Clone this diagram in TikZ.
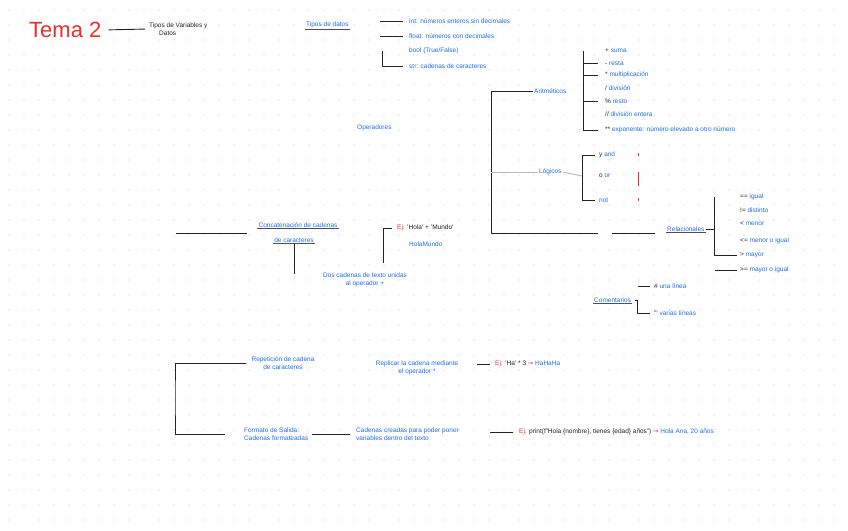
\documentclass[tikz,border=0pt]{standalone}
\usepackage{fontspec}
\setmainfont{Liberation Sans}
\newfontfamily\symfont{DejaVu Sans}
\usepackage{tikz}
\usetikzlibrary{positioning}

\definecolor{pen}{RGB}{30,110,235}
\definecolor{tred}{RGB}{235,45,45}
\definecolor{ink}{RGB}{35,35,35}
\definecolor{dotc}{RGB}{200,200,200}
\newcommand{\arr}{{\symfont\textcolor{tred}{→}}}

\begin{document}
\begin{tikzpicture}[x=1pt,y=-1pt,
  every node/.style={font=\fontsize{6.5}{7.8}\selectfont,inner sep=1pt},
  note/.style={text=pen,anchor=west,align=left},
  plain/.style={text=ink,anchor=west,align=left},
  ink/.style={draw=ink,line width=0.9pt},
  soft/.style={draw=gray!55,line width=0.9pt},
  under/.style={draw=ink!80,line width=0.7pt}]
  \useasboundingbox (0,0) rectangle (848,530);
  \fill[white] (0,0) rectangle (848,530);
  \foreach \x in {9,24,...,848}
    \foreach \y in {10,25,...,530}
      \fill[dotc] (\x,\y) circle (0.6);

  % titulo
  \node[text=tred,font=\fontsize{22}{24}\selectfont,anchor=west] (tema) at (28,30) {Tema 2};
  \node[plain] (titulo) at (148,29) {Tipos de Variables y\\\hspace{10pt}Datos};
  \draw[ink,shorten <=6pt,shorten >=3pt] (tema.east) -- (titulo.west);

  % tipos de datos
  \node[note] (tipos) at (305,25) {Tipos de datos};
  \draw[under] (tipos.south west) -- (tipos.south east);
  \node[note] (i1) at (408,21) {int: números enteros sin decimales};
  \node[note] (i2) at (408,36) {float: números con decimales};
  \node[note] (i3) at (408,51) {bool (True/False)};
  \node[note] (i4) at (408,66) {str: cadenas de caracteres};
  \draw[ink] ([xshift=-28pt]i1.west) -- ([xshift=-5pt]i1.west);
  \draw[ink] ([xshift=-28pt]i2.west) -- ([xshift=-5pt]i2.west);
  \draw[ink] ([xshift=-26pt]i3.west) |- ([xshift=-5pt]i4.west);

  % operadores
  \node[note] (oper) at (356,128) {Operadores};
  \coordinate (tronco) at (491,233);
  \node[note] (arit) at (533,91) {Aritméticos};
  \node[note] (logic) at (538,172) {Lógicos};
  \node[note] (relac) at (666,229) {Relacionales};
  \draw[under] (relac.south west) -- (relac.south east);
  \draw[ink] (arit.west) -| (tronco) -- ++(107,0);
  \draw[ink] ([xshift=-54pt]relac.west |- tronco) -- ([xshift=-11pt]relac.west |- tronco);
  \draw[soft] (logic.west) -- (logic.west -| tronco);

  % aritmeticos
  \node[note] (a1) at (604,51) {\textcolor{ink}{+} suma};
  \node[note] (a2) at (604,63) {\textcolor{ink}{-} resta};
  \node[note] (a3) at (604,75) {\textcolor{ink}{*} multiplicación};
  \node[note] (a4) at (604,88) {\textcolor{ink}{/} división};
  \node[note] (a5) at (604,101) {\textcolor{ink}{\%} resto};
  \node[note] (a6) at (604,114) {\textcolor{ink}{//} división entera};
  \node[note] (a7) at (604,130) {\textcolor{ink}{**} exponente: número elevado a otro número};
  \draw[ink] ([xshift=-21pt]a1.west) -- ([xshift=-21pt]a7.west) -- ([xshift=-6pt]a7.west);
  \foreach \n in {a2,a3,a5}
    \draw[ink] ([xshift=-21pt]\n.west) -- ([xshift=-6pt]\n.west);

  % logicos
  \node[note] (l1) at (598,155) {\textcolor{ink}{y} and};
  \node[note] (l2) at (598,176) {\textcolor{ink}{o} or};
  \node[note] (l3) at (598,200) {not};
  \draw[soft] (logic.east) -- ([xshift=-16pt]l2.west);
  \draw[ink] ([xshift=-3pt]l1.west) -| ([xshift=-16pt]l3.west) -- ([xshift=-3pt]l3.west);
  \draw[tred,line width=0.8pt] (638,153) -- (638,155.5);
  \draw[tred,line width=0.8pt] (638,172) -- (638,186);
  \draw[tred,line width=0.8pt] (638,198) -- (638,201);

  % relacionales
  \node[note] (r1) at (739,197) {\textcolor{ink}{==} igual};
  \node[note] (r2) at (739,210) {\textcolor{ink}{!=} distinto};
  \node[note] (r3) at (739,224) {\textcolor{ink}{<} menor};
  \node[note] (r4) at (739,241) {\textcolor{ink}{<=} menor o igual};
  \node[note] (r5) at (739,255) {\textcolor{ink}{>} mayor};
  \node[note] (r6) at (739,270) {\textcolor{ink}{>=} mayor o igual};
  \draw[ink] (relac.east) -- (relac.east -| 714,0);
  \draw[ink] ([xshift=-25pt]r1.west) |- ([xshift=-2pt]r5.west);
  \draw[ink] ([xshift=-24pt]r6.west) -- ([xshift=-2pt]r6.west);

  % comentarios
  \node[note] (coment) at (593,300) {Comentarios};
  \draw[under] (coment.south west) -- (coment.south east);
  \node[note] (c1) at (653,286) {\textcolor{ink}{\#} una línea};
  \node[note] (c2) at (653,313) {\textcolor{ink}{'''} varias líneas};
  \draw[ink] ([xshift=-15pt]c1.west) -- ([xshift=-3pt]c1.west);
  \draw[ink] ([xshift=3pt]coment.east) -| ([xshift=-16pt]c2.west) -- ([xshift=-3pt]c2.west);

  % concatenacion
  \coordinate (c0) at (176,233);
  \node[note,anchor=center] (concat1) at (298,225) {Concatenación de cadenas};
  \node[note,anchor=center] (concat2) at (294,240) {de caracteres};
  \draw[under] (concat1.south west) -- (concat1.south east);
  \draw[under] (concat2.south west) -- (concat2.south east);
  \draw[ink] (c0) -- ([xshift=-10pt]concat1.south west |- c0);
  \draw[ink] (concat2.south) -- ++(0,30);
  \node[note,align=center,anchor=center] (dos) at (365,280) {Dos cadenas de texto unidas\\al operador +};
  \node[plain] (ej1) at (396,228) {\textcolor{tred}{Ej:} 'Hola' + 'Mundo'};
  \node[note] (holamundo) at (408,244) {HolaMundo};
  \draw[ink,shorten >=9pt] ([xshift=-4pt]ej1.west) -| ([xshift=18pt]dos.north);

  % repeticion y formato
  \coordinate (izq) at (175,397);
  \node[note,align=center,anchor=center] (repet) at (283,363) {Repetición de cadena\\de caracteres};
  \node[note] (formato) at (243,434) {Formato de Salida:\\Cadenas formateadas};
  \draw[ink] ([xshift=-4pt]repet.west) -| (izq) |- ([xshift=-18pt]formato.west);
  \node[note,align=center,anchor=center] (replicar) at (417,368) {Replicar la cadena mediante\\el operador *};
  \node[plain] (ej2) at (494,364) {\textcolor{tred}{Ej:} 'Ha' * 3 \arr\ \textcolor{pen}{HaHaHa}};
  \draw[ink] ([xshift=-17pt]ej2.west) -- ([xshift=-4pt]ej2.west);
  \node[note] (cadenas) at (355,434) {Cadenas creadas para poder poner\\variables dentro del texto};
  \draw[ink,shorten <=3pt,shorten >=5pt] (formato.east) -- (cadenas.west);
  \node[plain] (ej3) at (518,432) {\textcolor{tred}{Ej:} print(f"Hola \{nombre\}, tienes \{edad\} años") \arr\ \textcolor{pen}{Hola Ana, 20 años}};
  \draw[ink] ([xshift=-28pt]ej3.west) -- ([xshift=-5pt]ej3.west);
\end{tikzpicture}
\end{document}
